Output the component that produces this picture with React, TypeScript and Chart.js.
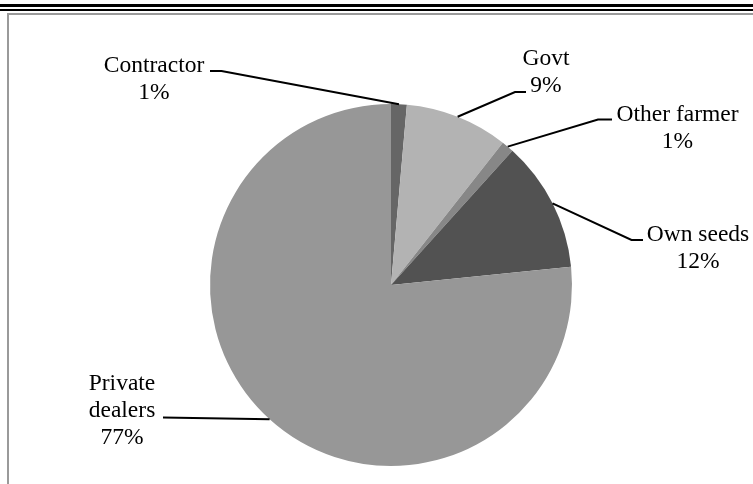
import React, { useEffect, useRef } from "react";
import { Chart, registerables } from "chart.js";

Chart.register(...registerables);

const categories = ["Contractor", "Govt", "Other farmer", "Own seeds", "Private dealers"];
const labelLines = [["Contractor"], ["Govt"], ["Other farmer"], ["Own seeds"], ["Private", "dealers"]];
const shares = [1.4, 9.2, 1.1, 11.7, 76.6];
const sliceColors = ["#666666", "#b3b3b3", "#878787", "#525252", "#979797"];

// layout of the data labels (text centre x, first line centre y, leader path points)
const labelLayout = [
  { cx: 154, cy: 64, lead: [[221.5, 71], [210, 71]] },
  { cx: 546, cy: 57, lead: [[515, 92], [526, 92]] },
  { cx: 677.5, cy: 113, lead: [[598, 119.5], [612, 119.5]] },
  { cx: 698, cy: 233, lead: [[631.5, 240], [643, 240]] },
  { cx: 122, cy: 382, lead: [[163, 417.5]] },
];
const LINE_H = 27;
const FONT = "23.5px 'Liberation Serif', 'Times New Roman', serif";

const labelPlugin = {
  id: "pieLabels",
  afterDatasetsDraw(chart: any) {
    const ctx = chart.ctx;
    const meta = chart.getDatasetMeta(0);
    const data = chart.data.datasets[0].data as number[];
    const total = data.reduce((a, b) => a + b, 0);
    ctx.save();
    meta.data.forEach((arc: any, i: number) => {
      const p = arc.getProps(["x", "y", "startAngle", "endAngle", "outerRadius"], true);
      const mid = (p.startAngle + p.endAngle) / 2;
      const sx = p.x + p.outerRadius * Math.cos(mid);
      const sy = p.y + p.outerRadius * Math.sin(mid);
      const lay = labelLayout[i];
      ctx.beginPath();
      ctx.strokeStyle = "#000";
      ctx.lineWidth = 2;
      ctx.moveTo(sx, sy);
      lay.lead.forEach((pt) => ctx.lineTo(pt[0], pt[1]));
      ctx.stroke();
      const lines = [...labelLines[i], Math.round((data[i] / total) * 100) + "%"];
      ctx.fillStyle = "#000";
      ctx.font = FONT;
      ctx.textAlign = "center";
      ctx.textBaseline = "alphabetic";
      lines.forEach((t, k) => {
        ctx.fillText(t, lay.cx, lay.cy + k * LINE_H + 8);
      });
    });
    ctx.restore();
  },
};

export default function App() {
  const ref = useRef<HTMLCanvasElement>(null);
  useEffect(() => {
    if (!ref.current) return;
    const chart = new Chart(ref.current, {
      type: "pie",
      data: {
        labels: categories,
        datasets: [
          {
            data: shares,
            backgroundColor: sliceColors,
            borderWidth: 0,
          },
        ],
      },
      options: {
        responsive: false,
        animation: false,
        devicePixelRatio: 1,
        layout: { padding: { left: 210, right: 181, top: 104, bottom: 18 } },
        plugins: { legend: { display: false }, tooltip: { enabled: false } },
      },
      plugins: [labelPlugin],
    });
    return () => chart.destroy();
  }, []);
  return (
    <div style={{ position: "fixed", left: 0, top: 0, width: 753, height: 484, overflow: "hidden", background: "#fff" }}>
      <div style={{ position: "absolute", left: 0, top: 4, width: 753, height: 3, background: "#000" }} />
      <div style={{ position: "absolute", left: 0, top: 9, width: 753, height: 2, background: "#000" }} />
      <div
        style={{
          position: "absolute",
          left: 7,
          top: 13,
          width: 800,
          height: 600,
          borderLeft: "2px solid #9a9a9a",
          borderTop: "2px solid #9a9a9a",
        }}
      />
      <canvas ref={ref} width={753} height={484} style={{ position: "absolute", left: 0, top: 0 }} />
    </div>
  );
}
